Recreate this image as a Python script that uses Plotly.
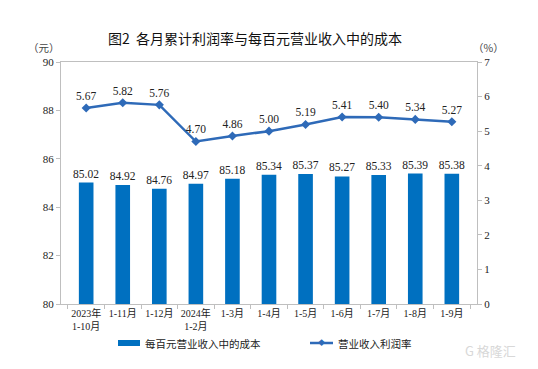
import plotly.graph_objects as go

categories = ["2023年<br>1-10月", "1-11月", "1-12月", "2024年<br>1-2月", "1-3月", "1-4月",
              "1-5月", "1-6月", "1-7月", "1-8月", "1-9月"]
cost_per_100 = [85.02, 84.92, 84.76, 84.97, 85.18, 85.34, 85.37, 85.27, 85.33, 85.39, 85.38]
profit_rate = [5.67, 5.82, 5.76, 4.70, 4.86, 5.00, 5.19, 5.41, 5.40, 5.34, 5.27]
left_ticks = [80, 82, 84, 86, 88, 90]
right_ticks = [0, 1, 2, 3, 4, 5, 6, 7]

BAR_COLOR = "#0070C0"
LINE_COLOR = "#2E6AB8"
SERIF = "Liberation Serif, Times New Roman, Noto Sans CJK SC, serif"
CJK = "Noto Sans CJK SC, sans-serif"
AXIS_COLOR = "#BFBFBF"

fig = go.Figure()
fig.add_trace(go.Bar(
    x=categories, y=cost_per_100, name="每百元营业收入中的成本",
    marker=dict(color=BAR_COLOR, line=dict(width=0)),
    text=[f"{v:.2f}" for v in cost_per_100], textposition="outside",
    constraintext="none",
    textfont=dict(family=SERIF, size=11.5, color="#222"),
    cliponaxis=False, showlegend=False,
))
fig.add_trace(go.Scatter(
    x=categories, y=profit_rate, name="营业收入利润率", yaxis="y2",
    mode="lines+markers+text",
    line=dict(color=LINE_COLOR, width=2.5),
    marker=dict(symbol="diamond", size=7, color=LINE_COLOR),
    text=[f"{v:.2f}" for v in profit_rate], textposition="top center",
    textfont=dict(family=SERIF, size=11.5, color="#222"),
    cliponaxis=False, showlegend=False,
))

# page body has an 8px margin, so the figure is offset by (8, 8)
fig.update_layout(
    width=530, height=361,
    margin=dict(l=53, r=61, t=54, b=65, autoexpand=False),
    paper_bgcolor="white", plot_bgcolor="white",
    bargap=0.6,
    font=dict(family=SERIF, size=11, color="#222"),
    xaxis=dict(
        showline=True, linecolor=AXIS_COLOR, mirror=True,
        ticks="outside", tickson="boundaries", ticklen=4, tickcolor=AXIS_COLOR,
        tickangle=0, automargin=False,
        tickfont=dict(family=SERIF, size=10, color="#222"),
        showgrid=False,
    ),
    yaxis=dict(
        range=[80, 90], tickvals=left_ticks, showgrid=False, automargin=False,
        showline=True, linecolor=AXIS_COLOR, ticks="outside", ticklen=4, tickcolor=AXIS_COLOR,
        tickfont=dict(family=SERIF, size=11, color="#222"),
    ),
    yaxis2=dict(
        range=[0, 7], tickvals=right_ticks, overlaying="y", side="right", showgrid=False,
        automargin=False,
        showline=True, linecolor=AXIS_COLOR, ticks="outside", ticklen=4, tickcolor=AXIS_COLOR,
        tickfont=dict(family=SERIF, size=11, color="#222"),
    ),
    showlegend=False,
)


def px(x):
    return (x - 61) / 416


def py(y):
    return (304 - y) / 242


def note(text, x, y, size, color, xanchor="center", family=CJK):
    fig.add_annotation(text=text, xref="paper", yref="paper", x=px(x), y=py(y),
                       xanchor=xanchor, yanchor="middle", showarrow=False,
                       font=dict(family=family, size=size, color=color))


note("图2  各月累计利润率与每百元营业收入中的成本", 255, 38, 14, "#111")
note("（元）", 44, 47, 10.5, "#444")
note("（%）", 488, 47, 10.5, "#444")

# custom legend
LEG_Y = 343
fig.add_shape(type="rect", xref="paper", yref="paper",
              x0=px(118), x1=px(140), y0=py(LEG_Y + 3), y1=py(LEG_Y - 3),
              fillcolor=BAR_COLOR, line=dict(width=0))
note("每百元营业收入中的成本", 143, LEG_Y, 10.5, "#222", xanchor="left")
fig.add_shape(type="line", xref="paper", yref="paper",
              x0=px(310), x1=px(333), y0=py(LEG_Y), y1=py(LEG_Y),
              line=dict(color=LINE_COLOR, width=2.5))
note("◆", 321.5, LEG_Y, 7, LINE_COLOR, family=SERIF)
note("营业收入利润率", 336, LEG_Y, 10.5, "#222", xanchor="left")
# watermark
note("G 格隆汇", 518, 350, 13, "#D8D8D8", xanchor="right")

fig.write_html("out.html")
